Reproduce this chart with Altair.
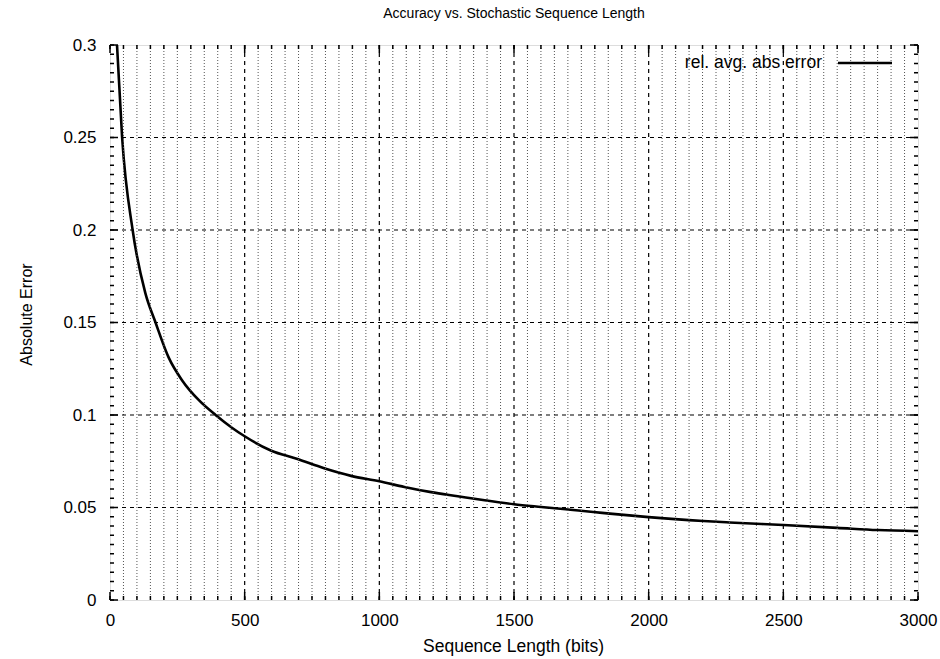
import altair as alt
import pandas as pd

# ---- data ----
bits = [26, 45, 84, 131, 169, 218, 268, 330, 392, 454, 500, 597, 696, 795, 895,
        1000, 1093, 1192, 1291, 1391, 1500, 1601, 1700, 1794, 1856, 2000, 2203,
        2300, 2500, 2700, 2850, 3000]
abs_error = [0.300, 0.250, 0.200, 0.166, 0.150, 0.131, 0.1187, 0.108, 0.100, 0.093,
             0.0885, 0.0808, 0.0762, 0.0712, 0.0671, 0.0642, 0.0611, 0.0583, 0.0561,
             0.0539, 0.0518, 0.0503, 0.0489, 0.0476, 0.0467, 0.0448, 0.0427, 0.0419,
             0.0405, 0.0390, 0.0378, 0.0372]
series_name = "rel. avg. abs error"

x_major = [0, 500, 1000, 1500, 2000, 2500, 3000]
y_major = [0, 0.05, 0.1, 0.15, 0.2, 0.25, 0.3]
x_minor = list(range(0, 3001, 50))
y_minor = [round(i * 0.005, 3) for i in range(0, 61)]

FONT = "Liberation Sans"
W, H = 808, 555

curve = pd.DataFrame({"bits": bits, "err": abs_error})
xminor_df = pd.DataFrame({"bits": [v for v in x_minor if v % 500 != 0]})
xmajor_df = pd.DataFrame({"bits": x_major})
xmajor_inner = pd.DataFrame({"bits": x_major[1:-1]})
ymajor_df = pd.DataFrame({"err": y_major})
ymajor_inner = pd.DataFrame({"err": y_major[1:-1]})
yminor_df = pd.DataFrame({"err": y_minor})
xminor_all = pd.DataFrame({"bits": x_minor})
legend_df = pd.DataFrame({"label": [series_name]})

xs = alt.Scale(domain=[0, 3000], nice=False, zero=False)
ys = alt.Scale(domain=[0, 0.3], nice=False, zero=False)

x_axis = alt.Axis(values=x_major, format="d", grid=False, ticks=False,
                  domain=False, labelFont=FONT, labelFontSize=17,
                  labelColor="black", labelPadding=12, labelFlush=False,
                  titleFont=FONT, titleFontSize=17.5,
                  titleFontWeight="normal", titleColor="black",
                  titleX=403, titleY=51, titleBaseline="alphabetic",
                  titleAlign="center")
y_axis = alt.Axis(values=y_major, format="~g", grid=False, ticks=False,
                  domain=False, labelFont=FONT, labelFontSize=17,
                  labelColor="black", labelPadding=14, labelFlush=False,
                  titleFont=FONT, titleFontSize=16,
                  titleFontWeight="normal", titleColor="black",
                  titleAngle=270, titleX=-79, titleY=269,
                  titleBaseline="alphabetic", titleAlign="center")

X = lambda: alt.X("bits:Q", scale=xs, title="Sequence Length (bits)", axis=x_axis)
Y = lambda: alt.Y("err:Q", scale=ys, title="Absolute Error", axis=y_axis)

# minor vertical dotted grid
g_minor = alt.Chart(xminor_df).mark_rule(
    color="#555", strokeWidth=1, strokeDash=[1, 2]
).encode(x=X())

# major dashed grid
g_xmajor = alt.Chart(xmajor_inner).mark_rule(
    color="black", strokeWidth=1.2, strokeDash=[4, 4]
).encode(x=X())
g_ymajor = alt.Chart(ymajor_inner).mark_rule(
    color="black", strokeWidth=1.2, strokeDash=[4, 4]
).encode(y=Y())

# inward ticks on all four sides
tick_style = dict(color="black", strokeWidth=1.5)
t_xmin_b = alt.Chart(xminor_all).mark_rule(**tick_style).encode(
    x=X(), y=alt.value(H), y2=alt.value(H - 4))
t_xmin_t = alt.Chart(xminor_all).mark_rule(**tick_style).encode(
    x=X(), y=alt.value(0), y2=alt.value(4))
t_xmaj_b = alt.Chart(xmajor_df).mark_rule(**tick_style).encode(
    x=X(), y=alt.value(H), y2=alt.value(H - 8))
t_xmaj_t = alt.Chart(xmajor_df).mark_rule(**tick_style).encode(
    x=X(), y=alt.value(0), y2=alt.value(8))
t_ymin_l = alt.Chart(yminor_df).mark_rule(**tick_style).encode(
    y=Y(), x=alt.value(0), x2=alt.value(4))
t_ymin_r = alt.Chart(yminor_df).mark_rule(**tick_style).encode(
    y=Y(), x=alt.value(W), x2=alt.value(W - 4))
t_ymaj_l = alt.Chart(ymajor_df).mark_rule(**tick_style).encode(
    y=Y(), x=alt.value(0), x2=alt.value(8))
t_ymaj_r = alt.Chart(ymajor_df).mark_rule(**tick_style).encode(
    y=Y(), x=alt.value(W), x2=alt.value(W - 8))

line = alt.Chart(curve).mark_line(
    strokeWidth=2.6, clip=True, color="black", interpolate="monotone"
).encode(x=X(), y=Y())

# key (gnuplot style: label on the left, line sample on the right)
key_text = alt.Chart(legend_df).mark_text(
    font=FONT, fontSize=17.5, color="black", align="right", baseline="middle"
).encode(text="label:N", x=alt.value(712), y=alt.value(18))
key_line = alt.Chart(legend_df).mark_rule(color="black", strokeWidth=2.6).encode(
    x=alt.value(728), x2=alt.value(782), y=alt.value(18))

chart = alt.layer(
    line,
    g_minor, g_xmajor, g_ymajor,
    t_xmin_b, t_xmin_t, t_xmaj_b, t_xmaj_t,
    t_ymin_l, t_ymin_r, t_ymaj_l, t_ymaj_r,
    key_text, key_line,
).properties(
    width=W, height=H,
    title=alt.TitleParams("Accuracy vs. Stochastic Sequence Length", font=FONT,
                          fontSize=14, fontWeight="normal", color="black",
                          anchor="middle", baseline="alphabetic", offset=21,
                          frame="group", dy=17),
    autosize=alt.AutoSizeParams(type="none"),
    padding={"left": 110, "top": 45, "right": 22, "bottom": 59},
).configure_view(
    stroke="black", strokeWidth=2
).configure(background="white")

chart.save("out.html", embed_options={"renderer": "svg", "actions": False})
